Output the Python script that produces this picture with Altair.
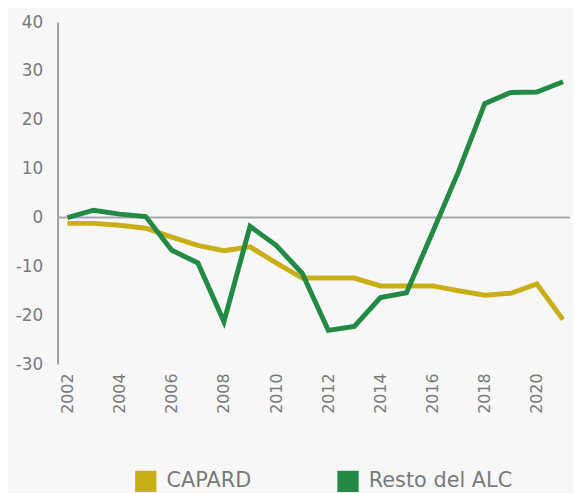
import altair as alt
import pandas as pd

years = list(range(2002, 2022))
capard = [-1.2, -1.2, -1.6, -2.2, -4.0, -5.7, -6.8, -6.0, -9.3, -12.4, -12.4, -12.4,
          -14.0, -14.0, -14.0, -15.0, -15.9, -15.5, -13.6, -20.9]
resto = [0.0, 1.5, 0.7, 0.2, -6.7, -9.3, -21.3, -1.8, -5.7, -11.4, -23.1, -22.3,
         -16.4, -15.4, -3.0, 9.5, 23.3, 25.6, 25.7, 27.8]
series = ["CAPARD", "Resto del ALC"]
colors = ["#C9AF17", "#238A45"]

df = pd.DataFrame({
    "year": years * 2,
    "value": capard + resto,
    "serie": [series[0]] * len(years) + [series[1]] * len(years),
})

FONT = "DejaVu Sans"
GRAY = "#7a7a7a"

color = alt.Color(
    "serie:N",
    scale=alt.Scale(domain=series, range=colors),
    legend=alt.Legend(
        title=None, orient="none", legendX=78, legendY=452, direction="horizontal",
        symbolType="square", symbolSize=110, symbolStrokeWidth=11,
        labelFontSize=21, labelFont=FONT, labelColor=GRAY, labelOffset=10,
        columnPadding=69,
    ),
)

x = alt.X("year:Q", scale=alt.Scale(domain=[2001.62, 2021.27], nice=False, zero=False),
          axis=alt.Axis(values=list(range(2002, 2022, 2)), format="d", labelAngle=-90,
                        domain=False, ticks=False, grid=False, labelPadding=9,
                        labelFontSize=16, labelFont=FONT, labelColor=GRAY,
                        labelBaseline="middle", labelAlign="right", title=None))
y = alt.Y("value:Q", scale=alt.Scale(domain=[-30, 40], nice=False),
          axis=alt.Axis(values=list(range(-30, 41, 10)), domain=True, domainColor="#a0a0a0",
                        domainWidth=2, ticks=False, grid=False, labelPadding=15,
                        labelExpr="'' + datum.value",
                        labelFontSize=17, labelFont=FONT, labelColor=GRAY, title=None))

zero = alt.Chart(pd.DataFrame({"v": [0]})).mark_rule(color="#a8a8a8", strokeWidth=2).encode(
    y=alt.Y("v:Q", scale=alt.Scale(domain=[-30, 40])))

l1 = alt.Chart(df[df.serie == series[0]]).mark_line(strokeWidth=5, strokeJoin="miter").encode(
    x=x, y=y, color=color)
l2 = alt.Chart(df[df.serie == series[1]]).mark_line(strokeWidth=5, strokeJoin="miter").encode(
    x=x, y=y, color=color)

chart = alt.layer(zero, l1, l2).properties(
    width=517, height=345,
    background="#f7f7f7",
    padding={"left": 7, "top": 3, "right": 0, "bottom": 0},
).configure_view(stroke=None)

chart.save("out.html", embed_options={"renderer": "svg", "actions": False})
